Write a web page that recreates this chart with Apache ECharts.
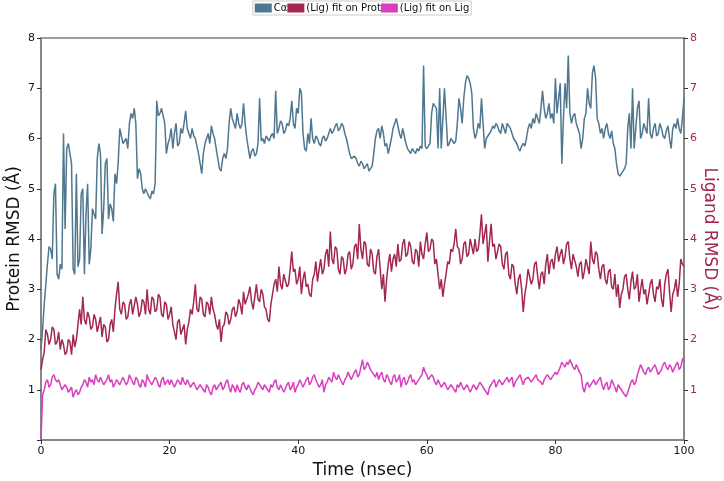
<!DOCTYPE html>
<html>
<head>
<meta charset="utf-8">
<script src="https://cdn.jsdelivr.net/npm/echarts@6/dist/echarts.min.js"></script>
<style>
html,body{margin:0;padding:0;background:#fff;}
#chart{width:724px;height:481px;}
</style>
</head>
<body>
<div id="chart"></div>
<script>
const seriesNames = ['Cα', '(Lig) fit on Prot', '(Lig) fit on Lig'];
const xTicks = [0, 20, 40, 60, 80, 100];
const yTicks = [1, 2, 3, 4, 5, 6, 7, 8];

const time = [
0,0.25,0.5,0.75,1,1.25,1.5,1.75,2,2.25,2.5,2.75,3,3.25,3.5,3.75,4,4.25,4.5,4.75,
5,5.25,5.5,5.75,6,6.25,6.5,6.75,7,7.25,7.5,7.75,8,8.25,8.5,8.75,9,9.25,9.5,9.75,
10,10.25,10.5,10.75,11,11.25,11.5,11.75,12,12.25,12.5,12.75,13,13.25,13.5,13.75,14,14.25,14.5,14.75,
15,15.25,15.5,15.75,16,16.25,16.5,16.75,17,17.25,17.5,17.75,18,18.25,18.5,18.75,19,19.25,19.5,19.75,
20,20.25,20.5,20.75,21,21.25,21.5,21.75,22,22.25,22.5,22.75,23,23.25,23.5,23.75,24,24.25,24.5,24.75,
25,25.25,25.5,25.75,26,26.25,26.5,26.75,27,27.25,27.5,27.75,28,28.25,28.5,28.75,29,29.25,29.5,29.75,
30,30.25,30.5,30.75,31,31.25,31.5,31.75,32,32.25,32.5,32.75,33,33.25,33.5,33.75,34,34.25,34.5,34.75,
35,35.25,35.5,35.75,36,36.25,36.5,36.75,37,37.25,37.5,37.75,38,38.25,38.5,38.75,39,39.25,39.5,39.75,
40,40.25,40.5,40.75,41,41.25,41.5,41.75,42,42.25,42.5,42.75,43,43.25,43.5,43.75,44,44.25,44.5,44.75,
45,45.25,45.5,45.75,46,46.25,46.5,46.75,47,47.25,47.5,47.75,48,48.25,48.5,48.75,49,49.25,49.5,49.75,
50,50.25,50.5,50.75,51,51.25,51.5,51.75,52,52.25,52.5,52.75,53,53.25,53.5,53.75,54,54.25,54.5,54.75,
55,55.25,55.5,55.75,56,56.25,56.5,56.75,57,57.25,57.5,57.75,58,58.25,58.5,58.75,59,59.25,59.5,59.75,
60,60.25,60.5,60.75,61,61.25,61.5,61.75,62,62.25,62.5,62.75,63,63.25,63.5,63.75,64,64.25,64.5,64.75,
65,65.25,65.5,65.75,66,66.25,66.5,66.75,67,67.25,67.5,67.75,68,68.25,68.5,68.75,69,69.25,69.5,69.75,
70,70.25,70.5,70.75,71,71.25,71.5,71.75,72,72.25,72.5,72.75,73,73.25,73.5,73.75,74,74.25,74.5,74.75,
75,75.25,75.5,75.75,76,76.25,76.5,76.75,77,77.25,77.5,77.75,78,78.25,78.5,78.75,79,79.25,79.5,79.75,
80,80.25,80.5,80.75,81,81.25,81.5,81.75,82,82.25,82.5,82.75,83,83.25,83.5,83.75,84,84.25,84.5,84.75,
85,85.25,85.5,85.75,86,86.25,86.5,86.75,87,87.25,87.5,87.75,88,88.25,88.5,88.75,89,89.25,89.5,89.75,
90,90.25,90.5,90.75,91,91.25,91.5,91.75,92,92.25,92.5,92.75,93,93.25,93.5,93.75,94,94.25,94.5,94.75,
95,95.25,95.5,95.75,96,96.25,96.5,96.75,97,97.25,97.5,97.75,98,98.25,98.5,98.75,99,99.25,99.5,99.75,
100];

const caRmsd = [
1.8,2.2,2.7,3.1,3.5,3.85,3.8,3.6,4.9,5.1,3.3,3.2,3.5,3.4,6.1,4.2,5.8,5.9,5.7,5.5,
3.4,3.3,5.3,3.45,3.6,4.9,5.0,3.3,4.5,5.1,3.5,3.8,4.6,4.5,4.4,5.6,5.9,5.7,4.1,4.6,
5.5,5.6,4.4,4.7,4.6,4.35,5.3,5.1,5.5,6.2,6.2,5.9,5.9,6.0,5.8,6.3,6.5,6.4,6.6,6.3,
5.2,5.4,5.3,5.0,4.9,5.0,5.0,4.85,4.8,4.95,4.9,5.1,6.75,6.45,6.5,6.6,6.6,6.3,5.7,5.9,
6.0,6.2,5.8,6.1,6.3,5.85,5.9,6.2,6.1,6.3,6.55,6.2,6.1,6.0,6.2,6.05,6.0,5.85,5.7,5.5,
5.3,5.7,5.9,6.0,6.1,5.9,6.25,6.1,6.0,5.8,5.6,5.4,5.35,5.6,5.7,5.6,5.8,6.3,6.6,6.4,
6.4,6.2,6.5,6.3,6.2,6.3,6.7,6.3,6.0,5.8,5.6,5.75,5.8,5.65,5.7,5.9,6.8,5.95,6.0,5.9,
6.05,6.0,5.95,6.05,6.1,6.0,6.95,6.1,6.2,6.35,6.3,6.1,6.15,6.3,6.25,6.4,6.75,6.3,6.2,6.6,
6.5,7.0,6.9,6.1,5.8,5.75,6.1,5.9,6.4,6.0,5.9,6.05,6.0,5.9,5.85,6.0,6.05,5.95,6.0,6.1,
6.2,6.1,6.15,6.25,6.3,6.15,6.2,6.3,6.25,6.1,6.0,5.85,5.7,5.6,5.6,5.65,5.6,5.5,5.45,5.55,
5.5,5.4,5.4,5.5,5.35,5.4,5.45,5.7,6.0,6.15,6.2,6.0,6.25,6.1,5.85,5.9,5.7,5.85,6.0,6.2,
6.2,6.4,6.4,6.1,6.0,6.2,6.05,5.9,5.8,5.75,5.7,5.8,5.75,5.7,5.8,5.75,5.85,5.8,7.45,5.85,
5.8,5.85,5.9,6.5,6.7,6.65,6.6,5.8,7.0,5.8,5.8,7.0,7.0,5.85,5.9,6.0,6.0,5.9,5.95,6.3,
6.8,6.6,6.3,6.8,7.1,7.25,7.2,7.1,6.9,6.2,6.0,6.1,6.3,6.2,6.8,6.3,5.8,6.0,6.0,6.1,
6.15,6.25,6.2,6.3,6.25,6.15,6.1,6.3,6.2,6.1,6.3,6.25,6.2,6.1,6.0,5.95,5.9,5.8,5.75,5.85,
5.9,5.85,6.0,6.2,6.3,6.2,6.4,6.3,6.5,6.4,6.3,6.6,6.95,6.6,6.4,6.5,6.7,6.4,6.5,6.3,
7.2,6.5,6.8,7.1,5.5,6.4,7.1,6.6,7.65,6.5,6.3,6.45,6.5,6.3,6.2,6.1,5.8,6.0,6.4,6.5,
7.0,6.7,6.6,7.3,7.45,7.2,6.4,6.3,6.1,6.2,6.0,6.2,6.3,6.1,6.0,6.15,5.9,5.8,5.5,5.3,
5.25,5.3,5.3,5.4,5.5,6.2,6.5,5.8,7.0,5.8,5.8,6.6,6.75,6.0,6.1,6.3,6.2,6.1,6.8,6.1,
6.0,6.2,6.3,6.05,6.1,6.3,6.2,6.05,6.0,6.15,6.25,6.0,5.8,6.2,6.3,6.2,6.4,6.2,6.1,6.4,
6.8];

const ligFitProt = [
1.4,1.6,1.75,2.2,2.1,1.9,2.0,2.25,2.2,1.9,1.95,2.15,1.8,2.0,1.9,1.7,1.75,2.0,1.95,1.7,
2.1,1.85,2.0,2.3,2.6,2.3,2.85,2.4,2.3,2.55,2.45,2.2,2.25,2.5,2.4,2.15,2.3,2.45,2.05,2.3,
2.25,1.95,2.0,2.3,2.4,2.15,2.6,2.9,3.15,2.6,2.5,2.75,2.7,2.4,2.45,2.7,2.8,2.5,2.5,2.85,
2.7,2.45,2.55,2.8,2.75,2.5,3.0,2.6,2.5,2.85,2.8,2.55,2.6,2.9,2.85,2.5,2.45,2.75,2.7,2.4,
2.5,2.65,2.3,2.15,2.0,2.35,2.4,2.1,2.1,2.3,1.9,2.2,2.35,2.6,2.5,2.75,3.1,2.6,2.55,2.85,
2.8,2.5,2.45,2.75,2.7,2.5,2.85,2.6,2.5,2.3,2.2,2.4,1.95,2.25,2.3,2.55,2.5,2.3,2.4,2.6,
2.65,2.45,2.55,2.8,2.7,2.5,2.95,2.7,2.7,2.9,3.05,2.75,2.6,2.85,3.1,2.8,2.75,3.0,2.9,2.65,
2.6,2.4,2.35,2.7,2.9,3.1,3.2,2.95,3.45,3.1,3.0,3.3,3.3,3.05,3.1,3.4,3.75,3.35,3.4,3.1,
3.2,3.45,2.9,3.2,3.35,3.05,3.1,2.9,2.85,3.2,3.3,3.55,3.15,3.4,3.6,3.3,3.4,3.7,3.8,3.45,
4.15,3.6,3.5,3.85,3.8,3.4,3.3,3.65,3.6,3.3,3.4,3.7,3.75,3.4,3.5,3.85,3.9,3.6,4.3,3.8,
3.6,3.95,3.9,3.5,3.45,3.8,3.7,3.35,3.3,3.65,3.8,3.4,3.0,3.3,2.75,3.2,3.5,3.7,3.35,3.6,
3.7,3.45,3.9,3.55,3.6,3.9,4.0,3.65,3.7,3.95,3.85,3.55,3.5,3.8,3.75,3.45,3.95,3.7,3.6,3.9,
4.13,3.75,3.8,4.0,3.95,3.5,3.6,3.3,3.0,3.2,2.85,3.1,3.3,3.55,3.5,3.8,3.75,3.9,4.2,3.85,
3.8,3.5,3.6,3.9,3.95,3.65,3.7,4.0,3.85,3.7,4.0,3.75,3.8,4.1,4.49,3.9,4.1,4.3,3.55,3.95,
4.3,3.85,3.9,3.6,3.6,3.9,3.85,3.5,3.4,3.7,3.75,3.3,3.2,3.5,3.45,3.1,2.9,3.2,3.3,3.0,
2.55,2.9,3.1,3.4,3.4,3.1,3.2,3.5,3.55,3.25,3.0,3.3,3.35,3.1,3.5,3.7,3.3,3.55,3.6,3.4,
3.7,3.85,3.55,3.7,3.8,3.5,3.65,3.9,3.95,3.6,3.4,3.7,3.7,3.45,3.25,3.5,3.55,3.2,3.35,3.6,
3.6,3.3,3.95,3.6,3.5,3.75,3.7,3.4,3.2,3.45,3.5,3.2,3.1,3.35,3.4,3.05,3.0,3.3,2.85,3.1,
2.63,2.9,3.0,3.25,3.3,3.0,2.8,3.15,3.35,3.0,3.05,3.3,2.75,3.0,3.2,2.9,3.0,2.7,2.9,3.1,
3.2,2.9,2.75,3.05,3.0,3.2,2.8,2.65,3.1,3.3,3.4,2.95,2.55,2.9,3.0,3.2,2.85,3.1,3.6,3.5,
3.45];

const ligFitLig = [
0.0,0.9,1.0,1.15,1.2,1.05,1.1,1.25,1.3,1.2,1.15,1.2,1.1,1.0,1.0,1.1,1.05,0.95,0.95,1.05,
0.85,0.95,1.0,0.9,0.95,1.05,1.1,1.2,1.15,1.05,1.25,1.15,1.2,1.1,1.3,1.2,1.15,1.25,1.25,1.1,
1.1,1.2,1.3,1.15,1.2,1.05,1.05,1.2,1.2,1.1,1.1,1.25,1.25,1.1,1.15,1.3,1.3,1.15,1.1,1.25,
1.2,1.1,1.05,1.2,1.15,1.05,1.3,1.2,1.2,1.1,1.1,1.25,1.2,1.1,1.05,1.2,1.25,1.1,1.15,1.2,
1.1,1.2,1.2,1.05,1.05,1.2,1.15,1.1,1.25,1.15,1.1,1.2,1.2,1.05,1.05,1.15,1.15,1.0,1.0,1.1,
1.1,1.0,0.95,1.1,1.05,0.95,0.9,1.05,1.1,1.0,1.0,1.1,1.15,1.0,1.05,1.15,1.2,1.05,0.95,1.1,
1.05,0.95,1.1,1.0,0.95,1.1,1.15,1.05,1.0,1.1,1.1,0.95,0.9,1.0,1.05,1.15,1.15,1.05,1.0,1.1,
1.1,1.0,0.95,1.1,1.05,1.15,1.2,1.05,1.0,1.1,1.1,0.95,0.95,1.1,1.15,1.0,1.05,1.15,0.95,1.05,
1.1,1.2,1.2,1.05,1.05,1.2,1.25,1.1,1.15,1.25,1.3,1.2,1.2,1.05,1.1,1.2,0.95,1.1,1.15,1.25,
1.25,1.15,1.35,1.25,1.2,1.3,1.3,1.15,1.1,1.2,1.25,1.35,1.35,1.2,1.2,1.35,1.4,1.25,1.3,1.45,
1.6,1.4,1.45,1.55,1.55,1.4,1.35,1.3,1.25,1.35,1.2,1.3,1.35,1.2,1.15,1.3,1.25,1.15,1.1,1.25,
1.3,1.15,1.2,1.3,1.05,1.2,1.25,1.1,1.15,1.25,1.3,1.15,1.2,1.1,1.1,1.2,1.2,1.3,1.45,1.35,
1.3,1.2,1.2,1.3,1.25,1.15,1.1,1.2,1.2,1.05,1.05,1.15,1.15,1.0,1.0,1.1,1.1,1.0,0.95,1.1,
1.05,1.15,1.15,1.0,1.0,1.1,1.1,0.95,0.95,1.1,1.1,1.0,1.0,1.15,1.15,1.05,1.05,0.95,0.9,1.05,
1.1,1.15,1.2,1.05,1.05,1.2,1.2,1.1,1.1,1.2,1.25,1.15,1.15,1.25,1.05,1.15,1.2,1.25,1.3,1.2,
1.1,1.2,1.2,1.25,1.25,1.15,1.15,1.25,1.3,1.2,1.2,1.15,1.1,1.2,1.25,1.3,1.3,1.2,1.2,1.3,
1.35,1.3,1.3,1.45,1.55,1.5,1.45,1.55,1.5,1.6,1.6,1.45,1.4,1.5,1.5,1.35,1.3,1.05,0.95,1.1,
1.15,1.05,1.05,1.15,1.2,1.1,1.1,1.2,1.25,1.1,1.0,1.1,1.15,1.0,1.05,1.2,1.2,1.05,0.95,1.1,
1.1,1.0,1.0,0.9,0.86,0.95,1.05,1.15,1.2,1.1,1.15,1.3,1.4,1.5,1.5,1.35,1.3,1.4,1.45,1.35,
1.35,1.45,1.5,1.4,1.3,1.35,1.4,1.5,1.55,1.45,1.4,1.5,1.45,1.35,1.35,1.5,1.55,1.4,1.45,1.6,
1.65];

const colors = ['#4f7790', '#a2284f', '#d93fbf'];
const FONT = 'DejaVu Sans, sans-serif';
const spine = '#7f7f7f';

function pairs(vals) { return vals.map((v, i) => [time[i], v]); }
const allSeries = [caRmsd, ligFitProt, ligFitLig];

const chart = echarts.init(document.getElementById('chart'), null, {renderer: 'canvas'});
const yLabelFmt = v => (yTicks.indexOf(v) >= 0 ? String(v) : '');

chart.setOption({
  animation: false,
  backgroundColor: '#fff',
  textStyle: {fontFamily: FONT},
  color: colors,
  legend: {
    top: 1,
    left: 'center',
    data: seriesNames,
    icon: 'rect',
    itemWidth: 17,
    itemHeight: 9,
    itemGap: 0,
    padding: [2, 2],
    borderColor: '#cccccc',
    borderWidth: 1,
    textStyle: {fontFamily: FONT, fontSize: 10, color: '#111', padding: [0, 0, 0, -3]}
  },
  grid: {left: 41, right: 40, top: 38, bottom: 41, show: true, borderColor: spine, borderWidth: 1.5,
    containLabel: false, outerBoundsMode: 'none'},
  xAxis: {
    type: 'value', min: 0, max: 100, interval: 20,
    name: 'Time (nsec)', nameLocation: 'middle', nameGap: 22, nameMoveOverlap: false,
    nameTextStyle: {fontSize: 17, color: '#111', fontFamily: FONT},
    axisLine: {show: true, lineStyle: {color: spine, width: 1.5}},
    axisTick: {show: true, length: 4, lineStyle: {color: '#333'}},
    axisLabel: {fontSize: 11, color: '#111', margin: 6, fontFamily: FONT,
      formatter: v => (xTicks.indexOf(v) >= 0 ? String(v) : '')},
    splitLine: {show: false}
  },
  yAxis: [{
    type: 'value', min: 0, max: 8, interval: 1, position: 'left',
    name: 'Protein RMSD (Å)', nameLocation: 'middle', nameGap: 18, nameRotate: 90, nameMoveOverlap: false,
    nameTextStyle: {fontSize: 17, color: '#111', fontFamily: FONT},
    axisLine: {show: true, lineStyle: {color: spine, width: 1.5}},
    axisTick: {show: true, length: 4, lineStyle: {color: '#333'}},
    axisLabel: {fontSize: 11, color: '#111', margin: 6, fontFamily: FONT, formatter: yLabelFmt},
    splitLine: {show: false}
  }, {
    type: 'value', min: 0, max: 8, interval: 1, position: 'right',
    name: 'Ligand RMSD (Å)', nameLocation: 'middle', nameGap: 17, nameRotate: -90, nameMoveOverlap: false,
    nameTextStyle: {fontSize: 17, color: colors[1], fontFamily: FONT},
    axisLine: {show: true, lineStyle: {color: spine, width: 1.5}},
    axisTick: {show: true, length: 4, lineStyle: {color: '#333'}},
    axisLabel: {fontSize: 11, color: colors[1], margin: 6, fontFamily: FONT, formatter: yLabelFmt},
    splitLine: {show: false}
  }],
  series: allSeries.map((vals, k) => ({
    name: seriesNames[k],
    type: 'line',
    yAxisIndex: k === 0 ? 0 : 1,
    data: pairs(vals),
    showSymbol: false,
    symbol: 'none',
    lineStyle: {width: 1.5, color: colors[k]},
    itemStyle: {color: colors[k]},
    z: 2 + k
  }))
});
</script>
</body>
</html>
